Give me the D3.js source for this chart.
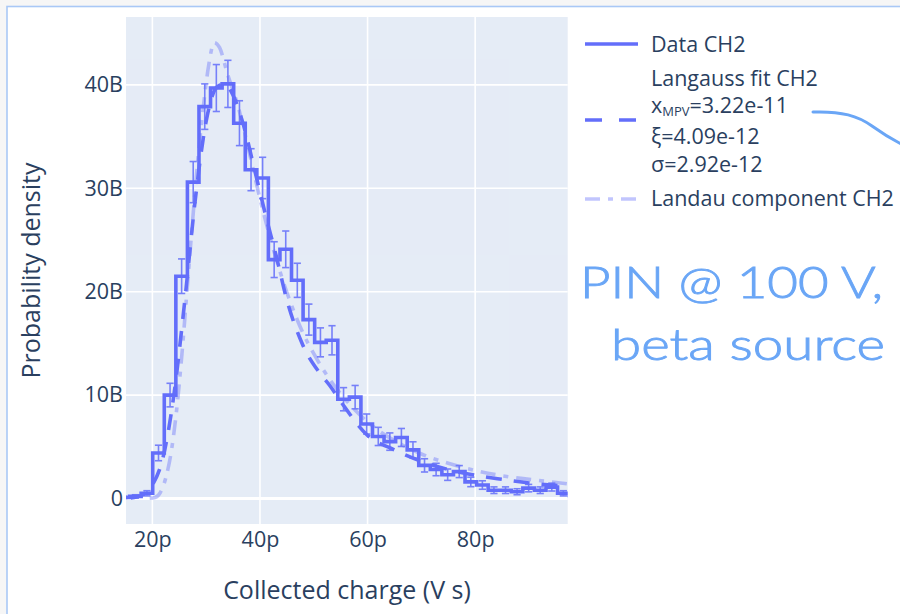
<!DOCTYPE html>
<html>
<head>
<meta charset="utf-8">
<script src="https://cdn.jsdelivr.net/npm/d3@7"></script>
<style>
  html, body { margin: 0; padding: 0; background: #f6f6f6; }
  svg { display: block; }
</style>
</head>
<body>
<svg id="chart" width="900" height="614"></svg>
<script>
// Histogram of collected charge (x in pV·s, density in units of 1e9 per V·s)
const binCenters = [14.69, 16.84, 18.99, 21.14, 23.29, 25.44, 27.59, 29.74, 31.89, 34.04,
                    36.19, 38.34, 40.49, 42.64, 44.79, 46.94, 49.09, 51.24, 53.39, 55.54,
                    57.69, 59.84, 61.99, 64.14, 66.29, 68.44, 70.59, 72.74, 74.89, 77.04,
                    79.19, 81.34, 83.49, 85.64, 87.79, 89.94, 92.09, 94.24, 96.39, 98.54];
const density    = [0.1, 0.2, 0.5, 4.4, 10.0, 21.5, 30.6, 37.9, 39.7, 40.1,
                    36.3, 31.8, 31.0, 23.1, 24.1, 21.1, 17.3, 15.1, 15.3, 9.6,
                    9.8, 7.2, 6.0, 5.5, 5.9, 4.7, 3.2, 2.8, 2.3, 2.6,
                    1.6, 1.3, 0.8, 0.8, 0.65, 1.0, 0.8, 1.1, 0.5, 0.3];
const densityErr = [0.11, 0.16, 0.25, 0.75, 1.14, 1.67, 1.99, 2.2, 2.27, 2.28,
                    2.17, 2.03, 2.0, 1.73, 1.77, 1.65, 1.5, 1.4, 1.41, 1.12,
                    1.13, 0.97, 0.88, 0.84, 0.87, 0.78, 0.64, 0.6, 0.55, 0.58,
                    0.46, 0.41, 0.32, 0.32, 0.29, 0.36, 0.32, 0.38, 0.25, 0.2];

// Langauss fit curve samples
const fitX = [16, 18, 20, 22, 24, 26, 28, 30, 32, 33.5, 35, 37, 39, 41, 43, 45, 48, 51, 53,
              55, 60, 65, 70, 75, 80, 85, 90, 97.5];
const fitY = [0.05, 0.3, 1.3, 4.0, 10.0, 19.0, 29.0, 36.5, 39.8, 40.1, 39.0, 36.0, 31.8, 27.5,
              23.5, 19.2, 14.8, 12.2, 10.9, 9.4, 6.1, 4.7, 3.6, 2.8, 2.25, 1.85, 1.5, 1.15];

// Landau component samples
const landauX = [19.5, 20.5, 21.5, 22.5, 23.5, 24.5, 25.5, 26.5, 27.5, 28.5, 29.5, 30.5, 31.5,
                 32.5, 34, 36, 38, 40, 42, 44, 46, 48, 50, 53, 56, 60, 65, 70, 75, 80, 85, 90, 97.5];
const landauY = [0.02, 0.1, 0.6, 2.0, 4.5, 8.5, 14.0, 20.5, 27.0, 33.0, 38.0, 42.0, 44.1,
                 43.6, 41.0, 37.8, 33.5, 29.0, 25.0, 21.5, 18.5, 16.0, 14.0, 11.5, 9.5, 7.4,
                 5.6, 4.3, 3.4, 2.7, 2.2, 1.85, 1.4];

const xTicks = [20e-12, 40e-12, 60e-12, 80e-12];
const yTicks = [0, 10e9, 20e9, 30e9, 40e9];

const PICO = 1e-12, GIGA = 1e9;

const legendLabels = ["Data CH2", "Langauss fit CH2", "=3.22e-11", "ξ=4.09e-12", "σ=2.92e-12",
                      "Landau component CH2"];

const blue = "#636efa";
const svg = d3.select("#chart");

// Page panel
svg.append("rect").attr("x", 0).attr("y", 0).attr("width", 900).attr("height", 614).attr("fill", "#f6f6f6");
svg.append("rect").attr("x", 7).attr("y", 6.5).attr("width", 920).attr("height", 640)
  .attr("fill", "#ffffff").attr("stroke", "#a9c8f6").attr("stroke-width", 1.6);

const m = { left: 126, top: 17, width: 441.7, height: 507 };

const x = d3.scaleLinear().domain([15.1 * PICO, 97.2 * PICO]).range([m.left, m.left + m.width]);
const y = d3.scaleLinear().domain([-2.47 * GIGA, 46.57 * GIGA]).range([m.top + m.height, m.top]);

const font = "'Open Sans', 'Noto Sans', sans-serif";
const textColor = "#2a3f5f";
const tickSize = 21.5, titleSize = 25;

svg.append("rect").attr("x", m.left).attr("y", m.top).attr("width", m.width).attr("height", m.height)
  .attr("fill", "#e5ecf6");

svg.append("defs").append("clipPath").attr("id", "plotClip")
  .append("rect").attr("x", m.left).attr("y", m.top).attr("width", m.width).attr("height", m.height);

// Grid lines
const grid = svg.append("g");
grid.selectAll(".gx").data(xTicks).join("line")
  .attr("x1", d => x(d)).attr("x2", d => x(d)).attr("y1", m.top).attr("y2", m.top + m.height)
  .attr("stroke", "#ffffff").attr("stroke-width", 1.6);
grid.selectAll(".gy").data(yTicks).join("line")
  .attr("x1", m.left).attr("x2", m.left + m.width).attr("y1", d => y(d)).attr("y2", d => y(d))
  .attr("stroke", "#ffffff").attr("stroke-width", d => d === 0 ? 3 : 1.6);

// Axes
const fmtX = v => d3.format("~s")(v);
const fmtY = v => v === 0 ? "0" : d3.format("~s")(v).replace("G", "B");

const xAxis = svg.append("g").attr("transform", `translate(0,${m.top + m.height})`)
  .call(d3.axisBottom(x).tickValues(xTicks).tickFormat(fmtX).tickSize(0).tickPadding(8));
const yAxis = svg.append("g").attr("transform", `translate(${m.left},0)`)
  .call(d3.axisLeft(y).tickValues(yTicks).tickFormat(fmtY).tickSize(0).tickPadding(3));
[xAxis, yAxis].forEach(a => {
  a.select(".domain").remove();
  a.selectAll("text").attr("font-family", font).attr("font-size", tickSize).attr("fill", textColor);
});

svg.append("text").attr("x", 347).attr("y", 599).attr("text-anchor", "middle")
  .attr("font-family", font).attr("font-size", titleSize).attr("fill", textColor)
  .text("Collected charge (V s)");
svg.append("text").attr("transform", `translate(40,${m.top + m.height / 2}) rotate(-90)`)
  .attr("text-anchor", "middle").attr("font-family", font).attr("font-size", titleSize).attr("fill", textColor)
  .text("Probability density");

// Traces
const plot = svg.append("g").attr("clip-path", "url(#plotClip)");

const hist = binCenters.map((c, i) => ({ x: c * PICO, y: density[i] * GIGA, e: densityErr[i] * GIGA }));

const stepLine = d3.line().x(d => x(d.x)).y(d => y(d.y)).curve(d3.curveStep);
plot.append("path").datum(hist).attr("d", stepLine)
  .attr("fill", "none").attr("stroke", blue).attr("stroke-width", 3.6);

const eb = plot.append("g").attr("stroke", blue).attr("stroke-width", 1.6).attr("opacity", 0.85);
eb.selectAll("line.v").data(hist).join("line")
  .attr("x1", d => x(d.x)).attr("x2", d => x(d.x))
  .attr("y1", d => y(d.y - d.e)).attr("y2", d => y(d.y + d.e));
eb.selectAll("line.t").data(hist).join("line")
  .attr("x1", d => x(d.x) - 3.6).attr("x2", d => x(d.x) + 3.6)
  .attr("y1", d => y(d.y + d.e)).attr("y2", d => y(d.y + d.e));
eb.selectAll("line.b").data(hist).join("line")
  .attr("x1", d => x(d.x) - 3.6).attr("x2", d => x(d.x) + 3.6)
  .attr("y1", d => y(d.y - d.e)).attr("y2", d => y(d.y - d.e));

const smooth = d3.line().x(d => x(d[0])).y(d => y(d[1])).curve(d3.curveMonotoneX);
const fitPts = fitX.map((v, i) => [v * PICO, fitY[i] * GIGA]);
const landauPts = landauX.map((v, i) => [v * PICO, landauY[i] * GIGA]);

plot.append("path").datum(fitPts).attr("d", smooth)
  .attr("fill", "none").attr("stroke", blue).attr("stroke-width", 3.6).attr("stroke-dasharray", "16,12");
plot.append("path").datum(landauPts).attr("d", smooth)
  .attr("fill", "none").attr("stroke", blue).attr("stroke-opacity", 0.4).attr("stroke-width", 3.6)
  .attr("stroke-dasharray", "15,8,5,8");

// Legend
const lg = svg.append("g").attr("font-family", font).attr("font-size", tickSize).attr("fill", textColor);
lg.append("line").attr("x1", 585).attr("x2", 638).attr("y1", 44).attr("y2", 44)
  .attr("stroke", blue).attr("stroke-width", 3.6);
lg.append("text").attr("x", 651).attr("y", 44).attr("dy", "0.35em").text(legendLabels[0]);

lg.append("line").attr("x1", 585).attr("x2", 638).attr("y1", 120).attr("y2", 120)
  .attr("stroke", blue).attr("stroke-width", 3.6).attr("stroke-dasharray", "17,17");
lg.append("text").attr("x", 651).attr("y", 78).attr("dy", "0.35em").text(legendLabels[1]);
const mpv = lg.append("text").attr("x", 651).attr("y", 105).attr("dy", "0.35em");
mpv.append("tspan").text("x");
mpv.append("tspan").attr("font-size", 13).attr("dy", 3.5).text("MPV");
mpv.append("tspan").attr("dy", -3.5).text(legendLabels[2]);
lg.append("text").attr("x", 651).attr("y", 136).attr("dy", "0.35em").text(legendLabels[3]);
lg.append("text").attr("x", 651).attr("y", 164).attr("dy", "0.35em").text(legendLabels[4]);

lg.append("line").attr("x1", 585).attr("x2", 638).attr("y1", 199).attr("y2", 199)
  .attr("stroke", blue).attr("stroke-opacity", 0.4).attr("stroke-width", 3.6).attr("stroke-dasharray", "15,8,5,8");
lg.append("text").attr("x", 651).attr("y", 198).attr("dy", "0.35em").text(legendLabels[5]);

// Hand-written note with pointer stroke
const noteColor = "#6aa6f6";
svg.append("path").attr("d", "M813,112 C842,111 858,116 872,126 S893,140 905,146")
  .attr("fill", "none").attr("stroke", noteColor).attr("stroke-width", 3).attr("stroke-linecap", "round");
const note = svg.append("g").attr("font-family", "'Lato', 'DejaVu Sans', sans-serif")
  .attr("font-size", 44).attr("fill", noteColor).attr("font-weight", 300)
  .attr("stroke", noteColor).attr("stroke-width", 0.9);
note.append("text").attr("x", 580).attr("y", 298).attr("textLength", 303).attr("lengthAdjust", "spacingAndGlyphs")
  .text("PIN @ 100 V,");
note.append("text").attr("x", 611).attr("y", 360).attr("textLength", 274).attr("lengthAdjust", "spacingAndGlyphs")
  .text("beta source");
</script>
</body>
</html>
